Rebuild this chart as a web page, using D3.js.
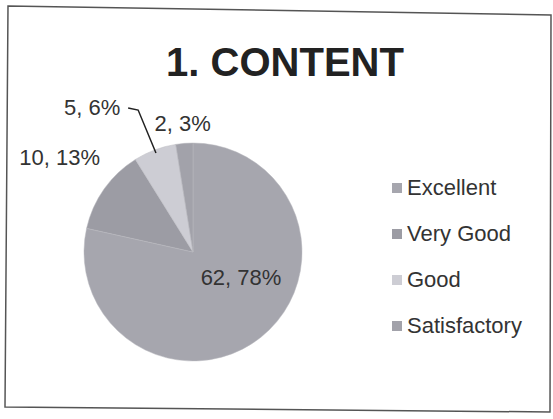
<!DOCTYPE html>
<html><head><meta charset="utf-8">
<script src="https://cdn.jsdelivr.net/npm/d3@7"></script>
<style>body{margin:0;background:#fff}svg{display:block}</style>
</head><body>
<svg id="c" width="553" height="419"></svg>
<script>
const title = "1. CONTENT";
const categories = ["Excellent", "Very Good", "Good", "Satisfactory"];
const values = [62, 10, 5, 2];
const percents = ["78%", "13%", "6%", "3%"];
const colors = ["#a6a6ae", "#9c9ca4", "#cdcdd4", "#a2a2aa"];

const svg = d3.select("#c");
const font = "'Liberation Sans', Arial, sans-serif";

// border (slightly skewed scan)
svg.append("path")
  .attr("d", "M8,6 L551,15 L550,412 L5,407 Z")
  .attr("fill", "none").attr("stroke", "#555").attr("stroke-width", 1.5);

svg.append("text").attr("x", 285).attr("y", 76)
  .attr("text-anchor", "middle").attr("font-family", font)
  .attr("font-weight", "bold").attr("font-size", 40).attr("fill", "#222")
  .text(title);

const cx = 193, cy = 252, r = 109;
const data = categories.map((c, i) => ({cat: c, v: values[i], p: percents[i], col: colors[i]}));
const pie = d3.pie().value(d => d.v).sort(null);
const arcs = pie(data);
const arc = d3.arc().innerRadius(0).outerRadius(r);
const g = svg.append("g").attr("transform", `translate(${cx},${cy})`);
g.selectAll("path.s").data(arcs).join("path").attr("class", "s")
  .attr("d", arc).attr("fill", d => d.data.col)
  .attr("stroke", "#b8b8be").attr("stroke-width", 0.5);

// label placement
const mid = d => (d.startAngle + d.endAngle) / 2;
const polar = (a, rr) => [Math.sin(a) * rr, -Math.cos(a) * rr];
const labelPos = [
  d => [48, 33],
  d => { const p = polar(mid(d), r * 1.5); return [p[0], p[1] + 8]; },
  d => { const p = polar(mid(d) - 0.25, r * 1.62); return [p[0], p[1] + 8]; },
  d => { const p = polar(mid(d), r * 1.19); return [p[0], p[1] + 8]; }
];
g.selectAll("text.l").data(arcs).join("text").attr("class", "l")
  .attr("x", (d, i) => labelPos[i](d)[0]).attr("y", (d, i) => labelPos[i](d)[1])
  .attr("text-anchor", "middle").attr("font-family", font).attr("font-size", 22)
  .attr("fill", "#333")
  .text(d => `${d.data.v}, ${d.data.p}`);

// leader line for "Good"
const gd = arcs[2];
const lp = labelPos[2](gd);
const edge = polar(mid(gd), r * 0.97);
g.append("polyline")
  .attr("points", `${lp[0] + 36},${lp[1] - 7} ${lp[0] + 46},${lp[1] - 5} ${edge[0]},${edge[1]}`)
  .attr("fill", "none").attr("stroke", "#222").attr("stroke-width", 1.5);

// legend
const leg = svg.append("g").attr("transform", "translate(392,0)");
const ly = d3.scalePoint().domain(categories).range([195, 333]);
leg.selectAll("rect").data(data).join("rect")
  .attr("x", 0).attr("y", d => ly(d.cat) - 12).attr("width", 10).attr("height", 10)
  .attr("fill", d => d.col);
leg.selectAll("text").data(data).join("text")
  .attr("x", 15).attr("y", d => ly(d.cat))
  .attr("font-family", font).attr("font-size", 22).attr("fill", "#333")
  .text(d => d.cat);
</script>
</body></html>
